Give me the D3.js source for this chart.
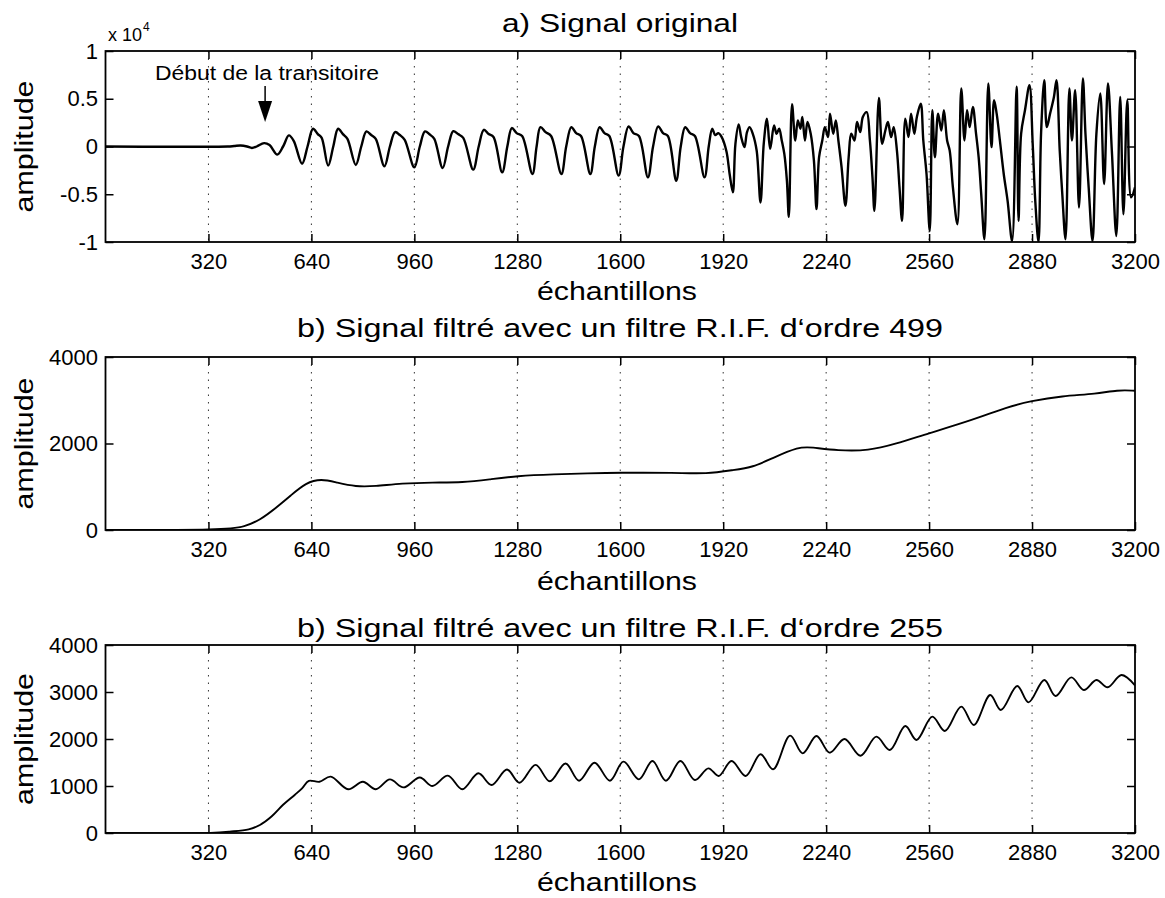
<!DOCTYPE html>
<html><head><meta charset="utf-8">
<script src="https://cdn.jsdelivr.net/npm/d3@7"></script>
<style>
html,body{margin:0;padding:0;background:#fff;}
text{font-family:"Liberation Sans",Arial,Helvetica,sans-serif;fill:#000;}
</style></head><body>
<svg id="chart" width="1165" height="898"></svg>
<script>
// ---------- data ----------
const xTicks = [320, 640, 960, 1280, 1600, 1920, 2240, 2560, 2880, 3200];
const yTicksA = [-10000, -5000, 0, 5000, 10000];
const yTicksB = [0, 2000, 4000];
const yTicksC = [0, 1000, 2000, 3000, 4000];

const titles = [
  "a) Signal original",
  "b) Signal filtré avec un filtre R.I.F. d‘ordre 499",
  "b) Signal filtré avec un filtre R.I.F. d‘ordre 255"
];
const xLabel = "échantillons";
const yLabel = "amplitude";
const annotation = "Début de la transitoire";
const annotationSample = 493;

// a) original signal (sample index, amplitude)
const sigA_x = [0,380,400,420,440,455,470,493,510,534,552,570,585,611,628,645,660,672,692,708,723,738,752,778,795,811,826,840,867,884,900,915,930,960,977,993,1008,1022,1048,1065,1081,1096,1112,1143,1160,1176,1191,1206,1233,1249,1263,1278,1295,1327,1340,1352,1368,1385,1417,1432,1448,1463,1478,1507,1521,1536,1551,1566,1595,1610,1626,1641,1658,1686,1702,1718,1733,1748,1774,1788,1802,1817,1832,1862,1875,1886,1895,1905,1915,1930,1940,1950,
  1958,1968,1976,1986,1994,2002,2012,2024,2036,2046,2056,2066,2078,2086,2094,2102,2110,2118,2124,2134,2144,2152,2160,2166,2174,2182,2192,2202,2210,2218,2228,2236,2246,2252,2262,2270,2278,2288,2300,2310,2318,2328,2336,2346,2354,2366,2376,2384,2390,2404,2414,2424,2432,2442,2450,2460,2468,2476,2486,2496,2504,2514,2522,2534,2542,2552,2562,2570,2578,2588,2598,2606,2616,2624,2634,2648,2660,2670,2678,2686,2696,2706,2714,2722,2732,2744,2754,2762,2770,2780,2792,2804,2818,2832,2838,2846,2858,2872,2882,2890,2900,2908,2918,2926,2936,2948,2956,2966,2974,2984,2996,3004,3014,3026,3038,3046,3056,3068,3080,3092,3104,3116,3128,3142,3154,3164,3176,3188,3200];
const sigA_y = [0,0,50,100,0,-150,0,350,150,-840,0,1160,600,-1800,0,1860,1300,900,-2000,0,1860,1300,800,-1930,0,1580,1200,800,-2070,0,1510,1200,700,-2180,0,1580,1250,800,-2250,0,1610,1300,900,-2420,0,1750,1300,1000,-2700,0,1930,1400,1100,-2880,0,2030,1500,1100,-2880,0,2030,1400,1100,-2880,0,2030,1400,1100,-3050,0,2100,1400,1100,-3230,0,2100,1400,1100,-3580,0,2030,1400,1100,-3230,0,1860,1200,1400,1000,-500,-2880,-4800,
  280,2300,980,-70,1500,2030,1330,-420,-5860,280,2900,-250,2200,1330,1860,630,-770,-3580,-7370,4420,630,2740,1860,3090,630,2560,1330,-1470,-6560,-1120,630,2030,980,3440,1330,2740,630,-2180,-6210,-1120,1330,630,2560,1500,3090,3600,630,-3230,-6740,5090,280,1680,2560,980,2030,-420,-4280,-7790,2900,980,3440,1330,3090,4490,630,-2880,-8840,3790,-1120,3440,1680,3790,630,-420,-4280,-8140,6070,630,3790,2030,4140,1330,-1120,-4980,-9720,6600,-70,4840,3440,630,-2880,-5690,-9900,6250,-7790,1330,3790,6420,280,-5690,-10000,1330,6950,2030,3440,5190,6950,-420,-4980,-9720,6070,630,5900,-6390,7120,1330,-4280,-9900,1330,5550,-3930,6600,-420,-9370,5190,-7090,4840,-5330,-4280];

// b) filtered, order 499
const sigB_x = [0,374,433,480,528,576,623,671,719,778,837,921,1016,1111,1194,1277,1396,1500,1592,1772,1868,1952,2012,2072,2156,2192,2276,2372,2456,2552,2695,2804,2876,2972,3080,3146,3200];
const sigB_y = [0,0,76,230,500,800,1095,1185,1095,1000,1010,1080,1100,1095,1170,1250,1290,1310,1325,1325,1295,1387,1450,1660,1927,1915,1835,1830,1990,2220,2540,2850,2980,3100,3145,3240,3220];

// c) filtered, order 255
const sigC_x = [0,326,386,445,480,516,552,588,611,632,665,700,754,800,840,884,926,977,1016,1064,1109,1159,1200,1248,1287,1337,1381,1430,1472,1520,1568,1610,1658,1700,1742,1787,1832,1874,1906,1946,1990,2036,2075,2128,2167,2210,2251,2297,2347,2396,2438,2486,2521,2570,2609,2660,2699,2750,2783,2834,2869,2918,2953,3002,3041,3080,3115,3158,3200];
const sigC_y = [0,0,28,78,170,350,600,810,950,1110,1090,1200,930,1090,930,1140,970,1180,1000,1220,930,1270,1020,1350,1070,1450,1100,1480,1113,1496,1113,1518,1142,1532,1113,1532,1128,1376,1213,1532,1213,1674,1355,2071,1695,2064,1709,2000,1645,2050,1766,2277,1979,2475,2170,2688,2298,2936,2617,3128,2780,3255,2915,3312,3043,3255,3100,3362,3140];

// ---------- layout ----------
const L = 105.5, R = 1135;
const panels = [
  {top: 51,  bottom: 242, xs: sigA_x, ys: sigA_y, domain: [-10000, 10000], ticks: yTicksA, fmt: d => String(d / 10000), title: 32, xl: 300, curve: d3.curveCatmullRom.alpha(0.5), sw: 2.4},
  {top: 357, bottom: 530, xs: sigB_x, ys: sigB_y, domain: [0, 4000], ticks: yTicksB, fmt: d => String(d), title: 337, xl: 590, curve: d3.curveBasis, sw: 1.9},
  {top: 645, bottom: 833, xs: sigC_x, ys: sigC_y, domain: [0, 4000], ticks: yTicksC, fmt: d => String(d), title: 637, xl: 891, curve: d3.curveCatmullRom.alpha(0.5), sw: 1.9}
];

const svg = d3.select("#chart");
const x = d3.scaleLinear().domain([0, 3200]).range([L, R]);

panels.forEach((p, i) => {
  const y = d3.scaleLinear().domain(p.domain).range([p.bottom, p.top]);
  const g = svg.append("g");

  const cid = "clip" + i;
  svg.append("clipPath").attr("id", cid).append("rect")
    .attr("x", L).attr("y", p.top).attr("width", R - L).attr("height", p.bottom - p.top);

  // grid (dotted verticals)
  g.selectAll(".grid").data(xTicks.filter(t => t < 3200)).enter().append("line")
    .attr("x1", d => x(d)).attr("x2", d => x(d))
    .attr("y1", p.top).attr("y2", p.bottom)
    .attr("stroke", "#333").attr("stroke-width", 1)
    .attr("stroke-dasharray", "1.5,6");

  const line = d3.line().x(d => x(d[0])).y(d => y(d[1])).curve(p.curve);
  const pts = p.xs.map((v, k) => [v, p.ys[k]]);
  g.append("path").datum(pts).attr("d", line)
    .attr("clip-path", `url(#${cid})`)
    .attr("fill", "none").attr("stroke", "#000").attr("stroke-width", p.sw)
    .attr("stroke-linejoin", "round");

  const xb = d3.axisBottom(x).tickValues(xTicks).tickSizeInner(-8).tickSizeOuter(0).tickPadding(11).tickFormat(d => String(d));
  const xt = d3.axisTop(x).tickValues(xTicks).tickSizeInner(-8).tickSizeOuter(0).tickFormat("");
  const yl = d3.axisLeft(y).tickValues(p.ticks).tickSizeInner(-8).tickSizeOuter(0).tickPadding(7.5).tickFormat(p.fmt);
  const yr = d3.axisRight(y).tickValues(p.ticks).tickSizeInner(-8).tickSizeOuter(0).tickFormat("");

  const styleAxis = sel => {
    sel.select(".domain").remove();
    sel.selectAll("line").attr("stroke", "#000").attr("stroke-width", 1.5);
    sel.selectAll("text").attr("font-size", 22).attr("font-family", "Liberation Sans, Arial, sans-serif").attr("fill", "#000");
  };
  g.append("g").attr("transform", `translate(0,${p.bottom})`).call(xb).call(styleAxis);
  g.append("g").attr("transform", `translate(0,${p.top})`).call(xt).call(styleAxis);
  g.append("g").attr("transform", `translate(${L},0)`).call(yl).call(styleAxis);
  g.append("g").attr("transform", `translate(${R},0)`).call(yr).call(styleAxis);

  g.append("rect").attr("x", L).attr("y", p.top).attr("width", R - L).attr("height", p.bottom - p.top)
    .attr("fill", "none").attr("stroke", "#000").attr("stroke-width", 1.8);

  g.append("text").attr("x", 620).attr("y", p.title).attr("text-anchor", "middle")
    .attr("font-size", 25).attr("textLength", i === 0 ? 236 : 646).attr("lengthAdjust", "spacingAndGlyphs")
    .text(titles[i]);

  g.append("text").attr("x", 617).attr("y", p.xl).attr("text-anchor", "middle")
    .attr("font-size", 25).attr("textLength", 160).attr("lengthAdjust", "spacingAndGlyphs")
    .text(xLabel);

  const cy = (p.top + p.bottom) / 2;
  g.append("text").attr("transform", `translate(33,${cy}) rotate(-90)`).attr("text-anchor", "middle")
    .attr("font-size", 25).attr("textLength", 132).attr("lengthAdjust", "spacingAndGlyphs")
    .text(yLabel);
});

// exponent label for panel a
const ex = svg.append("text").attr("x", 108).attr("y", 41).attr("font-size", 18);
ex.append("tspan").text("x 10");
ex.append("tspan").attr("dy", -10).attr("dx", 1).attr("font-size", 12).text("4");

// annotation
svg.append("text").attr("x", 155).attr("y", 80).attr("font-size", 20)
  .attr("textLength", 224).attr("lengthAdjust", "spacingAndGlyphs").text(annotation);
const ax = x(annotationSample) + 1;
svg.append("line").attr("x1", ax).attr("x2", ax).attr("y1", 86).attr("y2", 106)
  .attr("stroke", "#000").attr("stroke-width", 1.5);
svg.append("path").attr("d", `M${ax - 7},101 L${ax + 7},101 L${ax},122 Z`).attr("fill", "#000");
</script>
</body></html>
